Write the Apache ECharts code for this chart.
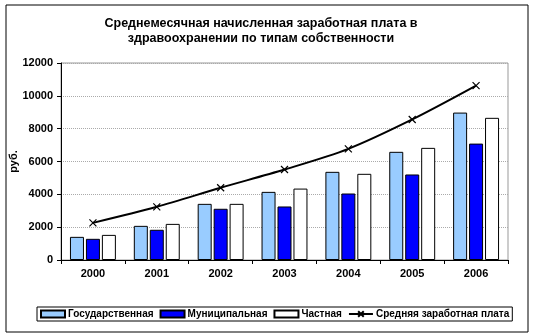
<!DOCTYPE html>
<html><head><meta charset="utf-8">
<script src="https://cdn.jsdelivr.net/npm/echarts@6/dist/echarts.min.js"></script>
<style>html,body{margin:0;padding:0;background:#fff}#c{width:534px;height:335px}</style>
</head><body><div id="c"></div>
<script>
const years = ['2000','2001','2002','2003','2004','2005','2006'];
const gosud = [1410, 2080, 3420, 4150, 5370, 6590, 8980];
const munic = [1290, 1840, 3120, 3260, 4050, 5210, 7090];
const chast = [1530, 2200, 3420, 4350, 5250, 6830, 8660];
const avg   = [2260, 3240, 4400, 5510, 6770, 8560, 10620];
const yTicks = [0, 2000, 4000, 6000, 8000, 10000, 12000];

const FONT = 'Arial, "Liberation Sans", sans-serif';
const chart = echarts.init(document.getElementById('c'));
const xPath = 'path://M0,0L10,10M10,0L0,10';
chart.setOption({
  animation: false,
  textStyle: {fontFamily: FONT},
  title: {
    text: 'Среднемесячная начисленная заработная плата в\nздравоохранении по типам собственности',
    left: 256, top: 11, textAlign: 'center',
    textStyle: {fontSize: 12.5, fontWeight: 'bold', color: '#000', lineHeight: 15, fontFamily: FONT}
  },
  grid: {left: 61, right: 26, top: 63, bottom: 75, show: true, borderColor: '#999', borderWidth: 1,
         containLabel: false, outerBoundsMode: 'none'},
  legend: {
    left: 37, top: 307, width: 476, height: 14,
    borderColor: '#000', borderWidth: 1, padding: [2, 3, 2, 3],
    itemWidth: 24, itemHeight: 7, itemGap: 6,
    textStyle: {fontSize: 10, fontWeight: 'bold', color: '#000', padding: [0,0,0,-2]},
    data: [
      {name: 'Государственная', icon: 'rect'},
      {name: 'Муниципальная', icon: 'rect'},
      {name: 'Частная', icon: 'rect'},
      {name: 'Средняя заработная плата'}
    ]
  },
  xAxis: {
    type: 'category', data: years,
    axisLine: {lineStyle: {color: '#000'}},
    axisTick: {show: true, lineStyle: {color: '#000'}, length: 4},
    axisLabel: {fontSize: 11, fontWeight: 'bold', color: '#000', margin: 8}
  },
  yAxis: {
    type: 'value', min: 0, max: 12000, interval: 2000,
    name: 'руб.', nameLocation: 'middle', nameGap: 42, nameRotate: 90, nameMoveOverlap: false,
    nameTextStyle: {fontSize: 11, fontWeight: 'bold', color: '#000'},
    axisLine: {show: true, lineStyle: {color: '#000'}},
    axisTick: {show: true, lineStyle: {color: '#000'}, length: 4},
    axisLabel: {fontSize: 11, fontWeight: 'bold', color: '#000', margin: 8,
      formatter: v => yTicks.includes(v) ? String(v) : ''},
    splitLine: {lineStyle: {color: '#aaa', type: 'dotted'}}
  },
  series: [
    {name: 'Государственная', type: 'bar', data: gosud, barWidth: 14, barGap: '14%',
     itemStyle: {color: '#99CCFF', borderColor: '#000', borderWidth: 1}},
    {name: 'Муниципальная', type: 'bar', data: munic, barWidth: 14,
     itemStyle: {color: '#0000FF', borderColor: '#000', borderWidth: 1}},
    {name: 'Частная', type: 'bar', data: chast, barWidth: 14,
     itemStyle: {color: '#FFFFFF', borderColor: '#000', borderWidth: 1}},
    {name: 'Средняя заработная плата', type: 'line', data: avg, smooth: 0.3,
     symbol: xPath, symbolSize: 7, showSymbol: true,
     lineStyle: {color: '#000', width: 2},
     itemStyle: {color: '#000', borderColor: '#000', borderWidth: 1.2}}
  ],
  graphic: [
    {type: 'rect', shape: {x: 6, y: 5, width: 522, height: 327},
     style: {fill: 'none', stroke: '#000', lineWidth: 1}, z: -1, silent: true}
  ]
});
</script></body></html>
